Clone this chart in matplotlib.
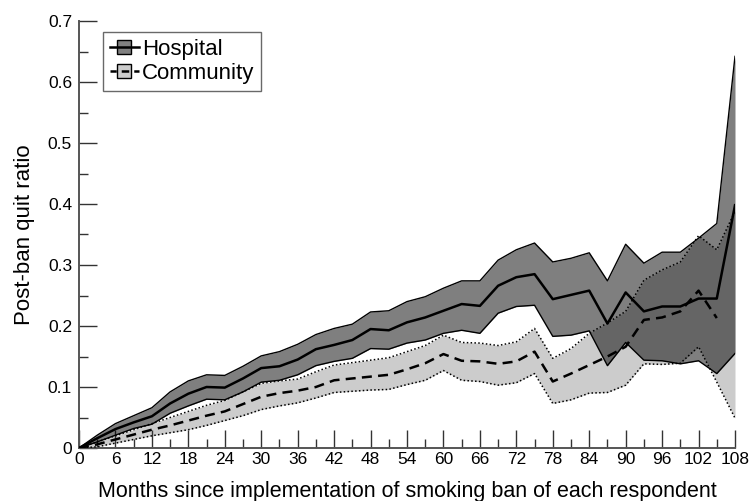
import numpy as np
import matplotlib
matplotlib.use("Agg")
import matplotlib.pyplot as plt
from matplotlib.patches import Rectangle
from matplotlib.lines import Line2D
from matplotlib.legend_handler import HandlerBase
from matplotlib.ticker import MultipleLocator

plt.rcParams['font.family'] = ['Liberation Sans', 'DejaVu Sans']

months = list(range(0, 109, 3))

hosp_mean = [0, 0.016, 0.031, 0.042, 0.052, 0.073, 0.089, 0.100, 0.099, 0.114, 0.131, 0.134,
             0.145, 0.162, 0.169, 0.177, 0.195, 0.193, 0.206, 0.214, 0.225, 0.236, 0.233, 0.266,
             0.280, 0.285, 0.244, 0.251, 0.258, 0.204, 0.255, 0.224, 0.232, 0.232, 0.245, 0.245, 0.398]
hosp_upper = [0, 0.021, 0.040, 0.053, 0.066, 0.092, 0.110, 0.120, 0.119, 0.134, 0.151, 0.158,
              0.170, 0.186, 0.196, 0.203, 0.223, 0.225, 0.240, 0.248, 0.262, 0.274, 0.274, 0.308,
              0.325, 0.336, 0.305, 0.311, 0.320, 0.274, 0.334, 0.303, 0.321, 0.321, 0.344, 0.368, 0.642]
hosp_lower = [0, 0.010, 0.021, 0.032, 0.039, 0.057, 0.069, 0.080, 0.079, 0.092, 0.108, 0.111,
              0.120, 0.135, 0.142, 0.147, 0.163, 0.162, 0.172, 0.177, 0.188, 0.193, 0.188, 0.221,
              0.232, 0.234, 0.183, 0.185, 0.192, 0.135, 0.173, 0.144, 0.143, 0.138, 0.143, 0.122, 0.155]

comm_mean = [0, 0.006, 0.014, 0.022, 0.030, 0.037, 0.045, 0.053, 0.060, 0.072, 0.084, 0.090,
             0.094, 0.100, 0.111, 0.114, 0.117, 0.120, 0.129, 0.139, 0.154, 0.143, 0.142, 0.138,
             0.142, 0.158, 0.109, 0.122, 0.136, 0.150, 0.166, 0.210, 0.214, 0.224, 0.258, 0.213, np.nan]
comm_upper = [0, 0.010, 0.020, 0.030, 0.040, 0.050, 0.060, 0.070, 0.078, 0.092, 0.106, 0.110,
              0.113, 0.125, 0.136, 0.140, 0.144, 0.148, 0.158, 0.168, 0.185, 0.173, 0.172, 0.168,
              0.174, 0.196, 0.147, 0.163, 0.188, 0.205, 0.224, 0.275, 0.292, 0.305, 0.348, 0.325, 0.388]
comm_lower = [0, 0.002, 0.008, 0.014, 0.020, 0.025, 0.030, 0.037, 0.045, 0.053, 0.063, 0.069,
              0.074, 0.082, 0.091, 0.093, 0.095, 0.096, 0.104, 0.111, 0.127, 0.111, 0.109, 0.103,
              0.107, 0.122, 0.073, 0.079, 0.090, 0.091, 0.103, 0.138, 0.137, 0.139, 0.166, 0.108, 0.049]

x_ticks = list(range(0, 109, 6))
y_ticks = [0, 0.1, 0.2, 0.3, 0.4, 0.5, 0.6, 0.7]
y_ticklabels = ['0', '0.1', '0.2', '0.3', '0.4', '0.5', '0.6', '0.7']
series_names = ['Hospital', 'Community']


class BandHandler(HandlerBase):
    def __init__(self, face, line_style):
        super().__init__()
        self.face = face
        self.line_style = line_style

    def create_artists(self, legend, orig_handle, xdescent, ydescent, width, height,
                       fontsize, trans):
        x0, y0 = -xdescent, -ydescent
        rw = width * 0.46
        rh = height * 0.9
        rect = Rectangle((x0 + (width - rw) / 2, y0 + (height - rh) / 2), rw, rh,
                         facecolor=self.face, edgecolor='black', linewidth=1.0, transform=trans)
        line = Line2D([x0, x0 + width], [y0 + height / 2] * 2, color='black',
                      linestyle=self.line_style, linewidth=1.8, transform=trans)
        return [rect, line]


fig = plt.figure(figsize=(7.51, 5.01), dpi=100)
ax = fig.add_axes([79/751, 53/501, 656/751, 427/501])

ax.fill_between(months, comm_lower, comm_upper, color='#cccccc', linewidth=0, zorder=1)
ax.fill_between(months, hosp_lower, hosp_upper, color='black', alpha=0.5, linewidth=0, zorder=2)

ax.plot(months, comm_upper, color='black', linestyle=(0, (1, 1.5)), linewidth=1.1, zorder=3)
ax.plot(months, comm_lower, color='black', linestyle=(0, (1, 1.5)), linewidth=1.1, zorder=3)
ax.plot(months, hosp_upper, color='black', linestyle='-', linewidth=1.0, zorder=3)
ax.plot(months, hosp_lower, color='black', linestyle='-', linewidth=1.0, zorder=3)
ax.plot(months, comm_mean, color='black', linestyle=(0, (4, 2.5)), linewidth=1.8, zorder=4)
ax.plot(months, hosp_mean, color='black', linestyle='-', linewidth=1.8, zorder=4)

ax.set_xlim(0, 108)
ax.set_ylim(0, 0.7)
ax.set_xticks(x_ticks)
ax.set_xticklabels([str(t) for t in x_ticks])
ax.set_yticks(y_ticks)
ax.set_yticklabels(y_ticklabels)
ax.xaxis.set_minor_locator(MultipleLocator(3))
ax.yaxis.set_minor_locator(MultipleLocator(0.05))

for s in ['top', 'right']:
    ax.spines[s].set_visible(False)
for s in ['left', 'bottom']:
    ax.spines[s].set_color('#555555')
    ax.spines[s].set_linewidth(1.4)

ax.tick_params(which='major', direction='in', length=13, width=1.0, color='#333333',
               labelsize=12.5, pad=5)
ax.tick_params(which='minor', direction='in', length=6.5, width=1.0, color='#333333')
ax.tick_params(axis='x', which='major', pad=3)

ax.set_xlabel('Months since implementation of smoking ban of each respondent', fontsize=15.5, labelpad=10)
ax.set_ylabel('Post-ban quit ratio', fontsize=16, labelpad=9)

h_key = Rectangle((0, 0), 1, 1)
c_key = Rectangle((0, 0), 1, 1)
leg = ax.legend([h_key, c_key], series_names, loc='upper left',
                handler_map={h_key: BandHandler('#808080', '-'),
                             c_key: BandHandler('#cccccc', (0.5, (3, 2)))},
                bbox_to_anchor=(24/656, 1 - 11/427), fontsize=16, frameon=True, fancybox=False,
                edgecolor='#444444', handlelength=1.3, handleheight=0.7, handletextpad=0.15,
                borderpad=0.3, labelspacing=0.15, borderaxespad=0)
leg.get_frame().set_linewidth(1.0)

fig.savefig('out.png', dpi=100)
